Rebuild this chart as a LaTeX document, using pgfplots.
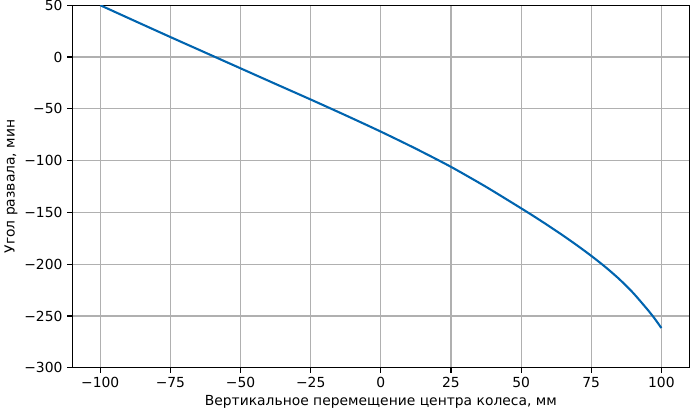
\documentclass[border=0pt]{standalone}
\usepackage{fontspec}
\setmainfont{DejaVu Sans}
\usepackage{pgfplots}
\pgfplotsset{compat=1.18}
\definecolor{curve}{RGB}{0,100,175}
\begin{document}
\begin{tikzpicture}
\begin{axis}[
  scale only axis, width=445pt, height=261.4pt,
  xmin=-110, xmax=110, ymin=-300, ymax=50,
  xtick={-100,-75,...,100}, ytick={-300,-250,...,50},
  xticklabels={−100,−75,−50,−25,0,25,50,75,100},
  yticklabels={−300,−250,−200,−150,−100,−50,0,50},
  grid=major, major grid style={color=black!31, line width=0.8pt},
  axis line style={line width=0.8pt},
  tick align=outside, tick pos=left, major tick length=3.5pt,
  tick style={black, line width=0.8pt},
  ticklabel style={font=\fontsize{10}{12}\selectfont},
  yticklabel style={inner ysep=0pt},
  label style={font=\fontsize{10}{12}\selectfont},
  xlabel={Вертикальное перемещение центра колеса, мм},
  ylabel={Угол развала, мин},
  xlabel style={yshift=-1pt, inner ysep=1pt},
  ylabel style={yshift=-2pt},
]
\addplot[curve, line width=1.5pt, smooth, tension=0.4] coordinates {
(-100,50) (-87.5,34.6) (-75,19.3) (-62.5,4.2) (-50,-10.9) (-37.5,-26)
(-25,-41) (-12.5,-56.3) (0,-72) (12.5,-88.5) (25,-106) (37.5,-125.3)
(50,-146) (55,-154.5) (60,-163.3) (65,-172.4) (70,-181.9) (75,-191.9)
(80,-202.6) (85,-214.4) (90,-227.9) (95,-243.6) (97.5,-252.1) (100,-261.6)
};
\end{axis}
\end{tikzpicture}
\end{document}
